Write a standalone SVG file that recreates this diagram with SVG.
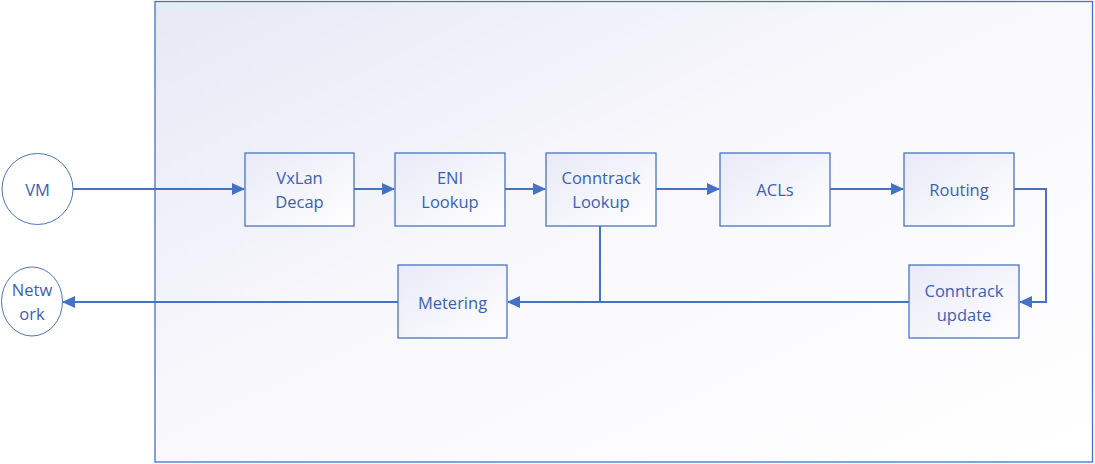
<svg xmlns="http://www.w3.org/2000/svg" width="1095" height="464" viewBox="0 0 1095 464">
<defs>
<linearGradient id="bg" x1="0" y1="0" x2="1" y2="1">
<stop offset="0" stop-color="#e6e8f5"/>
<stop offset="0.45" stop-color="#f8f8fc"/>
<stop offset="1" stop-color="#ffffff"/>
</linearGradient>
<linearGradient id="nf" x1="0" y1="0" x2="1" y2="1">
<stop offset="0" stop-color="#e8eaf6"/>
<stop offset="1" stop-color="#ffffff"/>
</linearGradient>
<marker id="ah" markerWidth="13" markerHeight="12" refX="12" refY="6" orient="auto" markerUnits="userSpaceOnUse">
<path d="M0,0 L13,6 L0,12 Z" fill="#4472c4"/>
</marker>
<style>
.box{fill:url(#nf);stroke:#4a74c4;stroke-width:1.3}
.circ{fill:#ffffff;stroke:#4a74c4;stroke-width:1}
.lbl{font-family:"Open Sans","Noto Sans",sans-serif;font-size:16.5px;fill:#3a5fb5;text-anchor:middle;dominant-baseline:central}
.con{fill:none;stroke:#4472c4;stroke-width:2}
</style>
</defs>
<rect x="155" y="1.5" width="937.5" height="460.5" fill="url(#bg)" stroke="#4472c4" stroke-width="1.3"/>
<g id="connectors">
<path class="con" d="M73,189 H244" marker-end="url(#ah)"/>
<path class="con" d="M354,189 H394" marker-end="url(#ah)"/>
<path class="con" d="M505,189 H545" marker-end="url(#ah)"/>
<path class="con" d="M656,189 H719" marker-end="url(#ah)"/>
<path class="con" d="M830,189 H903" marker-end="url(#ah)"/>
<path class="con" d="M1014,189 H1046 V302 H1020" marker-end="url(#ah)"/>
<path class="con" d="M909,302 H508" marker-end="url(#ah)"/>
<path class="con" d="M600,226 V302"/>
<path class="con" d="M398,302 H63" marker-end="url(#ah)"/>
</g>
<g id="vm"><circle class="circ" cx="37.5" cy="189" r="35.5"/><text class="lbl" x="37.5" y="189">VM</text></g>
<g id="network"><ellipse class="circ" cx="32" cy="301.5" rx="30.5" ry="34.5"/><text class="lbl" x="32" y="289">Netw</text><text class="lbl" x="32" y="313">ork</text></g>
<g id="vxlan"><rect class="box" x="245" y="153" width="109" height="73"/><text class="lbl" x="299.5" y="177">VxLan</text><text class="lbl" x="299.5" y="201">Decap</text></g>
<g id="eni"><rect class="box" x="395" y="153" width="110" height="73"/><text class="lbl" x="450" y="177">ENI</text><text class="lbl" x="450" y="201">Lookup</text></g>
<g id="ctlookup"><rect class="box" x="546" y="153" width="110" height="73"/><text class="lbl" x="601" y="177">Conntrack</text><text class="lbl" x="601" y="201">Lookup</text></g>
<g id="acls"><rect class="box" x="720" y="153" width="110" height="73"/><text class="lbl" x="775" y="189">ACLs</text></g>
<g id="routing"><rect class="box" x="904" y="153" width="110" height="73"/><text class="lbl" x="959" y="189">Routing</text></g>
<g id="ctupdate"><rect class="box" x="909" y="265" width="110" height="73"/><text class="lbl" x="964" y="290">Conntrack</text><text class="lbl" x="964" y="314">update</text></g>
<g id="metering"><rect class="box" x="398" y="265" width="109" height="73"/><text class="lbl" x="452.5" y="302">Metering</text></g>
</svg>
